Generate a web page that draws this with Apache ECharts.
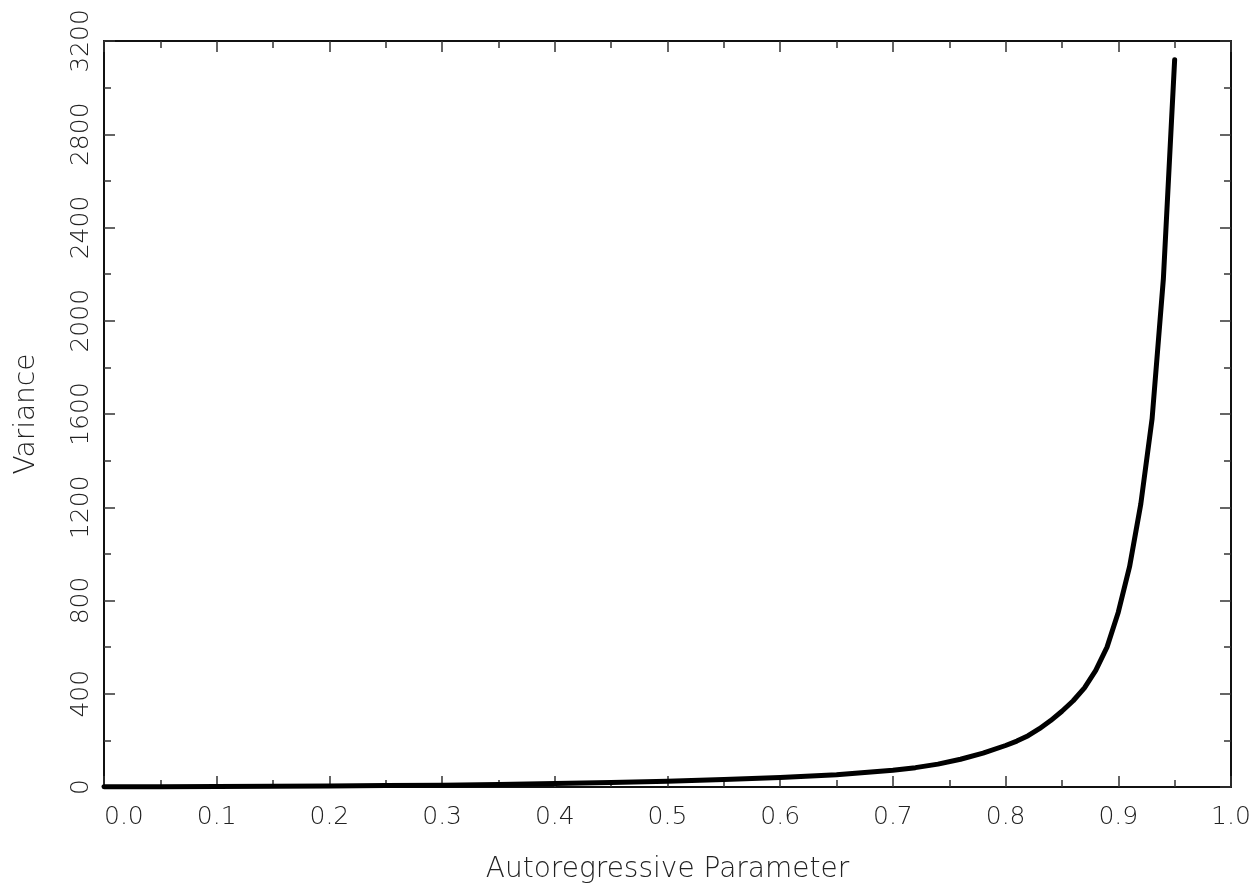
<!DOCTYPE html>
<html>
<head>
<meta charset="utf-8">
<script src="https://cdn.jsdelivr.net/npm/echarts@6/dist/echarts.min.js"></script>
<style>
  html, body { margin: 0; padding: 0; background: #fff; }
  #chart { width: 1260px; height: 892px; }
</style>
</head>
<body>
<div id="chart"></div>
<script>
// autoregressive parameter (x) and variance (y)
const phi = [0.00, 0.05, 0.10, 0.15, 0.20, 0.25, 0.30, 0.35, 0.40, 0.45,
  0.50, 0.55, 0.60, 0.65, 0.70, 0.72, 0.74, 0.76, 0.78, 0.80,
  0.81, 0.82, 0.83, 0.84, 0.85, 0.86, 0.87, 0.88, 0.89, 0.90,
  0.91, 0.92, 0.93, 0.94, 0.95]
const variance = [1, 1.5, 2, 3, 4, 6, 8, 11, 15, 19,
  25, 32, 41, 53, 72, 83, 98, 119, 145, 178,
  197, 220, 250, 285, 325, 370, 425, 500, 600, 750,
  945, 1215, 1580, 2180, 3120]
const xTicks = [0.0, 0.1, 0.2, 0.3, 0.4, 0.5, 0.6, 0.7, 0.8, 0.9, 1.0]
const yTicks = [0, 400, 800, 1200, 1600, 2000, 2400, 2800, 3200]

const fontFamily = "'DejaVu Sans', 'Liberation Sans', sans-serif"
const textColor = '#222'
const frameLine = { show: true, onZero: false, lineStyle: { color: '#111', width: 2 } }
const majorTick = { show: true, inside: true, length: 11, lineStyle: { color: '#333', width: 1.5 } }
const minorTick = { show: true, splitNumber: 2, length: 7, lineStyle: { color: '#333', width: 1.5 } }

const xBase = {
  type: 'value',
  min: xTicks[0],
  max: xTicks[xTicks.length - 1],
  interval: 0.1,
  axisLine: frameLine,
  axisTick: majorTick,
  minorTick: minorTick,
  splitLine: { show: false }
}
const yBase = {
  type: 'value',
  min: yTicks[0],
  max: yTicks[yTicks.length - 1],
  interval: 400,
  axisLine: frameLine,
  axisTick: majorTick,
  minorTick: minorTick,
  splitLine: { show: false }
}

const option = {
  backgroundColor: '#fff',
  animation: false,
  grid: { left: 104, right: 29, top: 41, bottom: 105 },
  xAxis: [
    Object.assign({}, xBase, {
      position: 'bottom',
      name: 'Autoregressive Parameter',
      nameLocation: 'middle',
      nameGap: 69,
      nameTextStyle: { fontFamily: fontFamily, fontWeight: 200, fontSize: 28, color: textColor },
      axisLabel: {
        margin: 18,
        alignMinLabel: 'left',
        fontFamily: fontFamily,
        fontWeight: 200,
        fontSize: 25,
        color: textColor,
        formatter: function (v) { return v.toFixed(1) }
      }
    }),
    Object.assign({}, xBase, { position: 'top', axisLabel: { show: false } })
  ],
  yAxis: [
    Object.assign({}, yBase, {
      position: 'left',
      name: 'Variance',
      nameLocation: 'middle',
      nameGap: 63,
      nameTextStyle: { fontFamily: fontFamily, fontWeight: 200, fontSize: 28, color: textColor },
      axisLabel: {
        rotate: 90,
        margin: 10,
        fontFamily: fontFamily,
        fontWeight: 200,
        fontSize: 25,
        color: textColor,
        formatter: function (v) { return String(v) }
      }
    }),
    Object.assign({}, yBase, { position: 'right', axisLabel: { show: false } })
  ],
  series: [{
    type: 'line',
    xAxisIndex: 0,
    yAxisIndex: 0,
    data: phi.map((p, i) => [p, variance[i]]),
    showSymbol: false,
    symbol: 'none',
    clip: false,
    z: 5,
    lineStyle: { color: '#000', width: 5, join: 'round', cap: 'round' }
  }]
}

const myChart = echarts.init(document.getElementById('chart'))
myChart.setOption(option)
</script>
</body>
</html>
